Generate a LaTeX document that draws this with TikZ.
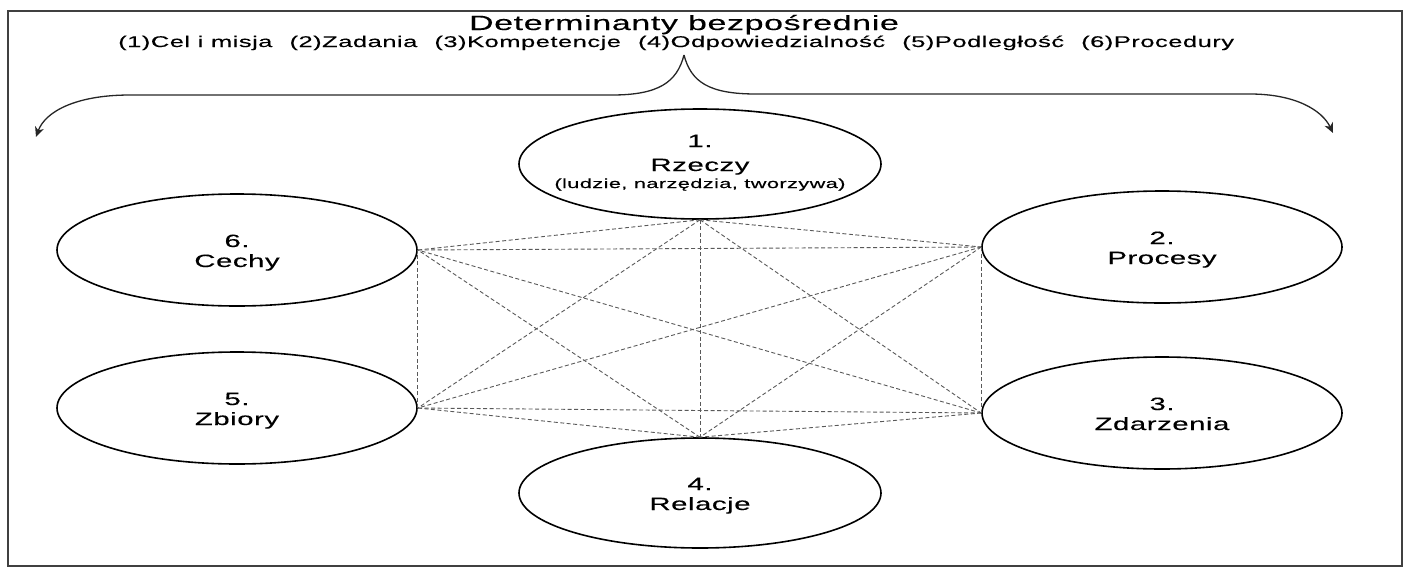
\documentclass[tikz,border=0pt]{standalone}
\usepackage{fontspec}
\setmainfont{Liberation Sans}[FakeStretch=1.65, LetterSpace=3, FakeBold=0.3]
\usetikzlibrary{shapes.geometric, arrows.meta}

\begin{document}
\begin{tikzpicture}[x=1pt, y=-1pt,
  frame/.style={draw=black!75, line width=1.5pt},
  oval/.style={ellipse, draw=black, line width=1.6pt, inner sep=0pt,
               minimum width=360pt, minimum height=112pt},
  wide/.style={oval, minimum width=362pt, minimum height=110pt},
  num/.style={anchor=base, inner sep=0pt, font=\fontsize{17.8}{18}\selectfont},
  lbl/.style={anchor=base, inner sep=0pt, font=\fontsize{17.8}{18}\selectfont},
  sub/.style={anchor=base, inner sep=0pt, font=\fontsize{13.2}{14}\selectfont},
  link/.style={draw=black!65, line width=0.9pt, dash pattern=on 4pt off 2.5pt},
  brace/.style={draw=black!85, line width=1.3pt},
  tip/.style={-{Stealth[length=10pt, width=9pt, inset=3pt]}}]

  \useasboundingbox (0,0) rectangle (1406,568);
  \draw[frame] (8,11) rectangle (1402,566);

  % heading and the list of determinants
  \node[anchor=base, inner sep=0pt, font=\fontsize{20.6}{22}\selectfont]
    (title) at (684,30) {Determinanty bezpośrednie};
  \node[anchor=base west, inner sep=0pt, font=\fontsize{15.5}{16}\selectfont]
    (dets) at (118,47) {(1)Cel i misja\hspace{1.1em}(2)Zadania\hspace{1.1em}(3)Kompetencje\hspace{1.1em}(4)Odpowiedzialność\hspace{1.1em}(5)Podległość\hspace{1.1em}(6)Procedury};

  % brace splitting into two arrows
  \coordinate (btip) at (684,55);
  \coordinate (bl) at (612,95);
  \coordinate (br) at (756,94);
  \coordinate (al) at (130,95);
  \coordinate (ar) at (1250,94);
  \coordinate (tl) at (36,137);
  \coordinate (tr) at (1333,133);
  \draw[brace, tip] (btip) .. controls (677,82) and (659,95) .. (bl) -- (al)
        .. controls (75,95) and (45,112) .. (tl);
  \draw[brace, tip] (btip) .. controls (691,82) and (709,94) .. (br) -- (ar)
        .. controls (1295,94) and (1322,110) .. (tr);

  % the six categories
  \node[wide] (e1) at (700,164) {};
  \node[oval] (e2) at (1162,247) {};
  \node[oval] (e3) at (1162,413) {};
  \node[wide] (e4) at (700,493) {};
  \node[oval] (e5) at (237,408) {};
  \node[oval] (e6) at (237,250) {};

  % links between every pair of categories
  \foreach \a/\b in {e1.south/e2.west, e1.south/e3.west, e1.south/e4.north,
                     e1.south/e5.east, e1.south/e6.east,
                     e2.west/e3.west, e2.west/e4.north, e2.west/e5.east, e2.west/e6.east,
                     e3.west/e4.north, e3.west/e5.east, e3.west/e6.east,
                     e4.north/e5.east, e4.north/e6.east,
                     e5.east/e6.east}
    \draw[link] (\a) -- (\b);

  % labels
  \node[num] (e1n) at (700,147) {1.};
  \node[lbl] (e1t) at (700,171) {Rzeczy};
  \node[sub] (e1s) at (700,188) {(ludzie, narzędzia, tworzywa)};
  \node[num] (e2n) at (1162,244) {2.};
  \node[lbl] (e2t) at (1162,264) {Procesy};
  \node[num] (e3n) at (1162,410) {3.};
  \node[lbl] (e3t) at (1162,430) {Zdarzenia};
  \node[num] (e4n) at (700,490) {4.};
  \node[lbl] (e4t) at (700,510) {Relacje};
  \node[num] (e5n) at (237,405) {5.};
  \node[lbl] (e5t) at (237,425) {Zbiory};
  \node[num] (e6n) at (237,247) {6.};
  \node[lbl] (e6t) at (237,267) {Cechy};
\end{tikzpicture}
\end{document}
